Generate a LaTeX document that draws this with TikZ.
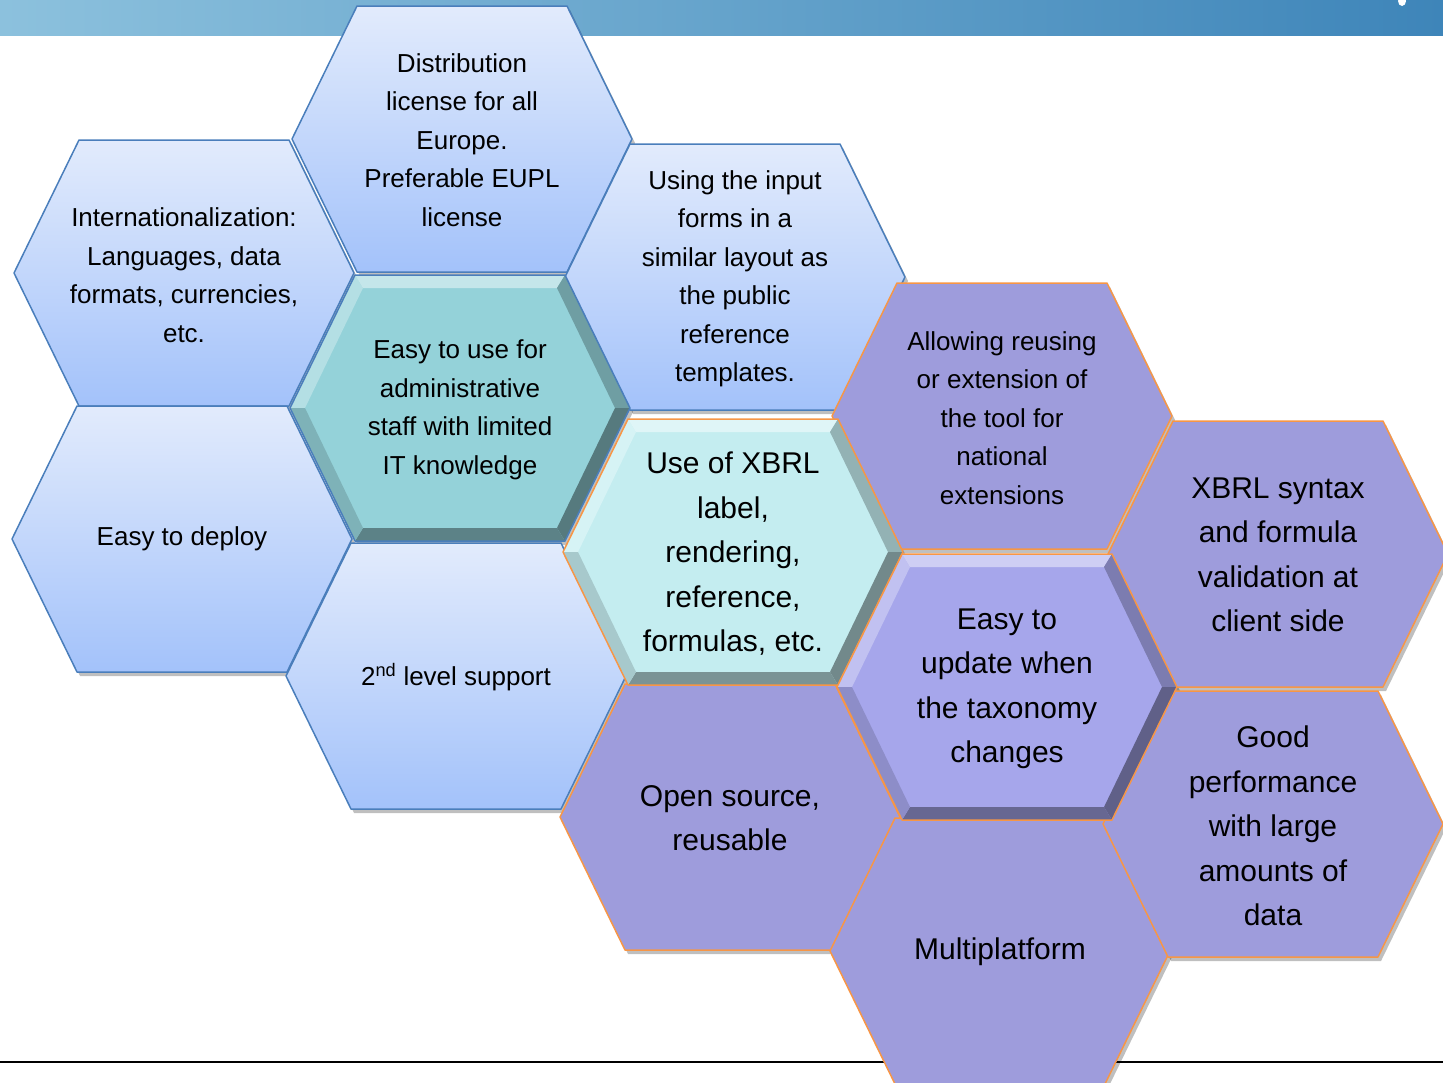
\documentclass[tikz,border=0pt]{standalone}
\usepackage{fontspec}
\setmainfont{Liberation Sans}
\usepackage{tikz}
\usetikzlibrary{
    positioning,
    calc
}
\definecolor{BarLeft}{RGB}{140,193,221}
\definecolor{BarRight}{RGB}{62,133,185}
\definecolor{CellTop}{RGB}{226,235,252}
\definecolor{CellBottom}{RGB}{163,194,250}
\definecolor{CellEdge}{RGB}{74,126,187}
\definecolor{OrangeEdge}{RGB}{247,150,70}
\definecolor{Lilac}{RGB}{158,156,220}
\definecolor{TealCell}{RGB}{148,210,217}
\definecolor{IceCell}{RGB}{196,237,240}
\definecolor{LilacCell}{RGB}{166,166,235}

% one hexagon cell, centre (#2,#3), path options #1
\newcommand{\hexcell}[3]{%
    \path[#1] ({#2-\hexW},{#3}) -- ({#2-\hexT},{#3+\hexH}) -- ({#2+\hexT},{#3+\hexH})
        -- ({#2+\hexW},{#3}) -- ({#2+\hexT},{#3-\hexH}) -- ({#2-\hexT},{#3-\hexH}) -- cycle;}

% bevelled rim of a highlighted cell, centre (#1,#2), colour #3
\newcommand{\bevelhex}[3]{%
    \begin{scope}[shift={(#1,#2)}]
        \coordinate (o1) at (-\hexW,0);  \coordinate (i1) at (-\bevW,0);
        \coordinate (o2) at (-\hexT,\hexH); \coordinate (i2) at (-\bevT,\bevH);
        \coordinate (o3) at (\hexT,\hexH);  \coordinate (i3) at (\bevT,\bevH);
        \coordinate (o4) at (\hexW,0);   \coordinate (i4) at (\bevW,0);
        \coordinate (o5) at (\hexT,-\hexH); \coordinate (i5) at (\bevT,-\bevH);
        \coordinate (o6) at (-\hexT,-\hexH); \coordinate (i6) at (-\bevT,-\bevH);
        \fill[#3!70!white] (o1) -- (o2) -- (i2) -- (i1) -- cycle;
        \fill[#3!55!white] (o2) -- (o3) -- (i3) -- (i2) -- cycle;
        \fill[#3!75!black] (o3) -- (o4) -- (i4) -- (i3) -- cycle;
        \fill[#3!58!black] (o4) -- (o5) -- (i5) -- (i4) -- cycle;
        \fill[#3!62!black] (o5) -- (o6) -- (i6) -- (i5) -- cycle;
        \fill[#3!85!black] (o6) -- (o1) -- (i1) -- (i6) -- cycle;
    \end{scope}}

\begin{document}
\begin{tikzpicture}[
            x=1pt, y=1pt,
            line join=round,
            smalltext/.style={font=\fontsize{26}{38.5}\selectfont, align=center},
            bigtext/.style={font=\fontsize{30}{44.5}\selectfont, align=center},
            bluecell/.style={draw=CellEdge, line width=1.5pt, top color=CellTop, bottom color=CellBottom},
            lilaccell/.style={draw=OrangeEdge, line width=1.5pt, fill=Lilac},
            cellshadow/.style={fill=black, opacity=0.25},
        ]

        % Cell geometry
        \def\hexW{170}
        \def\hexT{105}
        \def\hexH{133}
        \def\bevW{155}
        \def\bevT{97}
        \def\bevH{120}

        \useasboundingbox (0,0) rectangle (1443,-1082);

        % Header bar
        \shade[left color=BarLeft, right color=BarRight] (0,0) rectangle (1443,-35);
        \fill[white] (1402,-1) ellipse (4 and 5);

        % Bottom rule
        \coordinate (rule west) at (0,-1062);
        \coordinate (rule east) at (1443,-1062);
        \draw[line width=2pt] (rule west) -- (rule east);

        % Shadows
        \foreach \cx/\cy in {184/-273, 182/-539, 462/-139, 460/-408, 456/-676,
                             735/-277, 733/-552, 730/-817, 1002/-416, 1007/-687,
                             1000/-951, 1278/-554, 1273/-824} {
            \hexcell{cellshadow, xshift=3pt, yshift=-4pt}{\cx}{\cy}
        }

        % Blue cells
        \foreach \cx/\cy in {184/-273, 182/-539, 462/-139, 456/-676, 735/-277} {
            \hexcell{bluecell}{\cx}{\cy}
        }

        % Lilac cells
        \foreach \cx/\cy in {1002/-416, 730/-817, 1000/-951, 1278/-554, 1273/-824} {
            \hexcell{lilaccell}{\cx}{\cy}
        }

        % Highlighted cells
        \hexcell{fill=TealCell}{460}{-408}
        \bevelhex{460}{-408}{TealCell}
        \hexcell{draw=CellEdge, line width=1.5pt}{460}{-408}

        \hexcell{fill=IceCell}{733}{-552}
        \bevelhex{733}{-552}{IceCell}
        \hexcell{draw=OrangeEdge, line width=1.5pt}{733}{-552}

        \hexcell{fill=LilacCell}{1007}{-687}
        \bevelhex{1007}{-687}{LilacCell}
        \hexcell{draw=OrangeEdge, line width=1.5pt}{1007}{-687}

        % Labels
        \node[smalltext] (intl) at (184,-275) {Internationalization:\\Languages, data\\formats, currencies,\\etc.};
        \node[smalltext] (deploy) at (182,-539) {Easy to deploy};
        \node[smalltext] (license) at (462,-140) {Distribution\\license for all\\Europe.\\Preferable EUPL\\license};
        \node[smalltext] (easyuse) at (460,-410) {Easy to use for\\administrative\\staff with limited\\IT knowledge};
        \node[smalltext] (support) at (456,-677) {2\textsuperscript{nd} level support};
        \node[smalltext] (inputforms) at (735,-279) {Using the input\\forms in a\\similar layout as\\the public\\reference\\templates.};
        \node[bigtext] (xbrllabel) at (733,-554) {Use of XBRL\\label,\\rendering,\\reference,\\formulas, etc.};
        \node[bigtext] (opensource) at (730,-818) {Open source,\\reusable};
        \node[smalltext] (reusing) at (1002,-418) {Allowing reusing\\or extension of\\the tool for\\national\\extensions};
        \node[bigtext] (update) at (1007,-689) {Easy to\\update when\\the taxonomy\\changes};
        \node[bigtext] (multiplatform) at (1000,-952) {Multiplatform};
        \node[bigtext] (syntax) at (1278,-555) {XBRL syntax\\and formula\\validation at\\client side};
        \node[bigtext] (performance) at (1273,-826) {Good\\performance\\with large\\amounts of\\data};
        \end{tikzpicture}
\end{document}
